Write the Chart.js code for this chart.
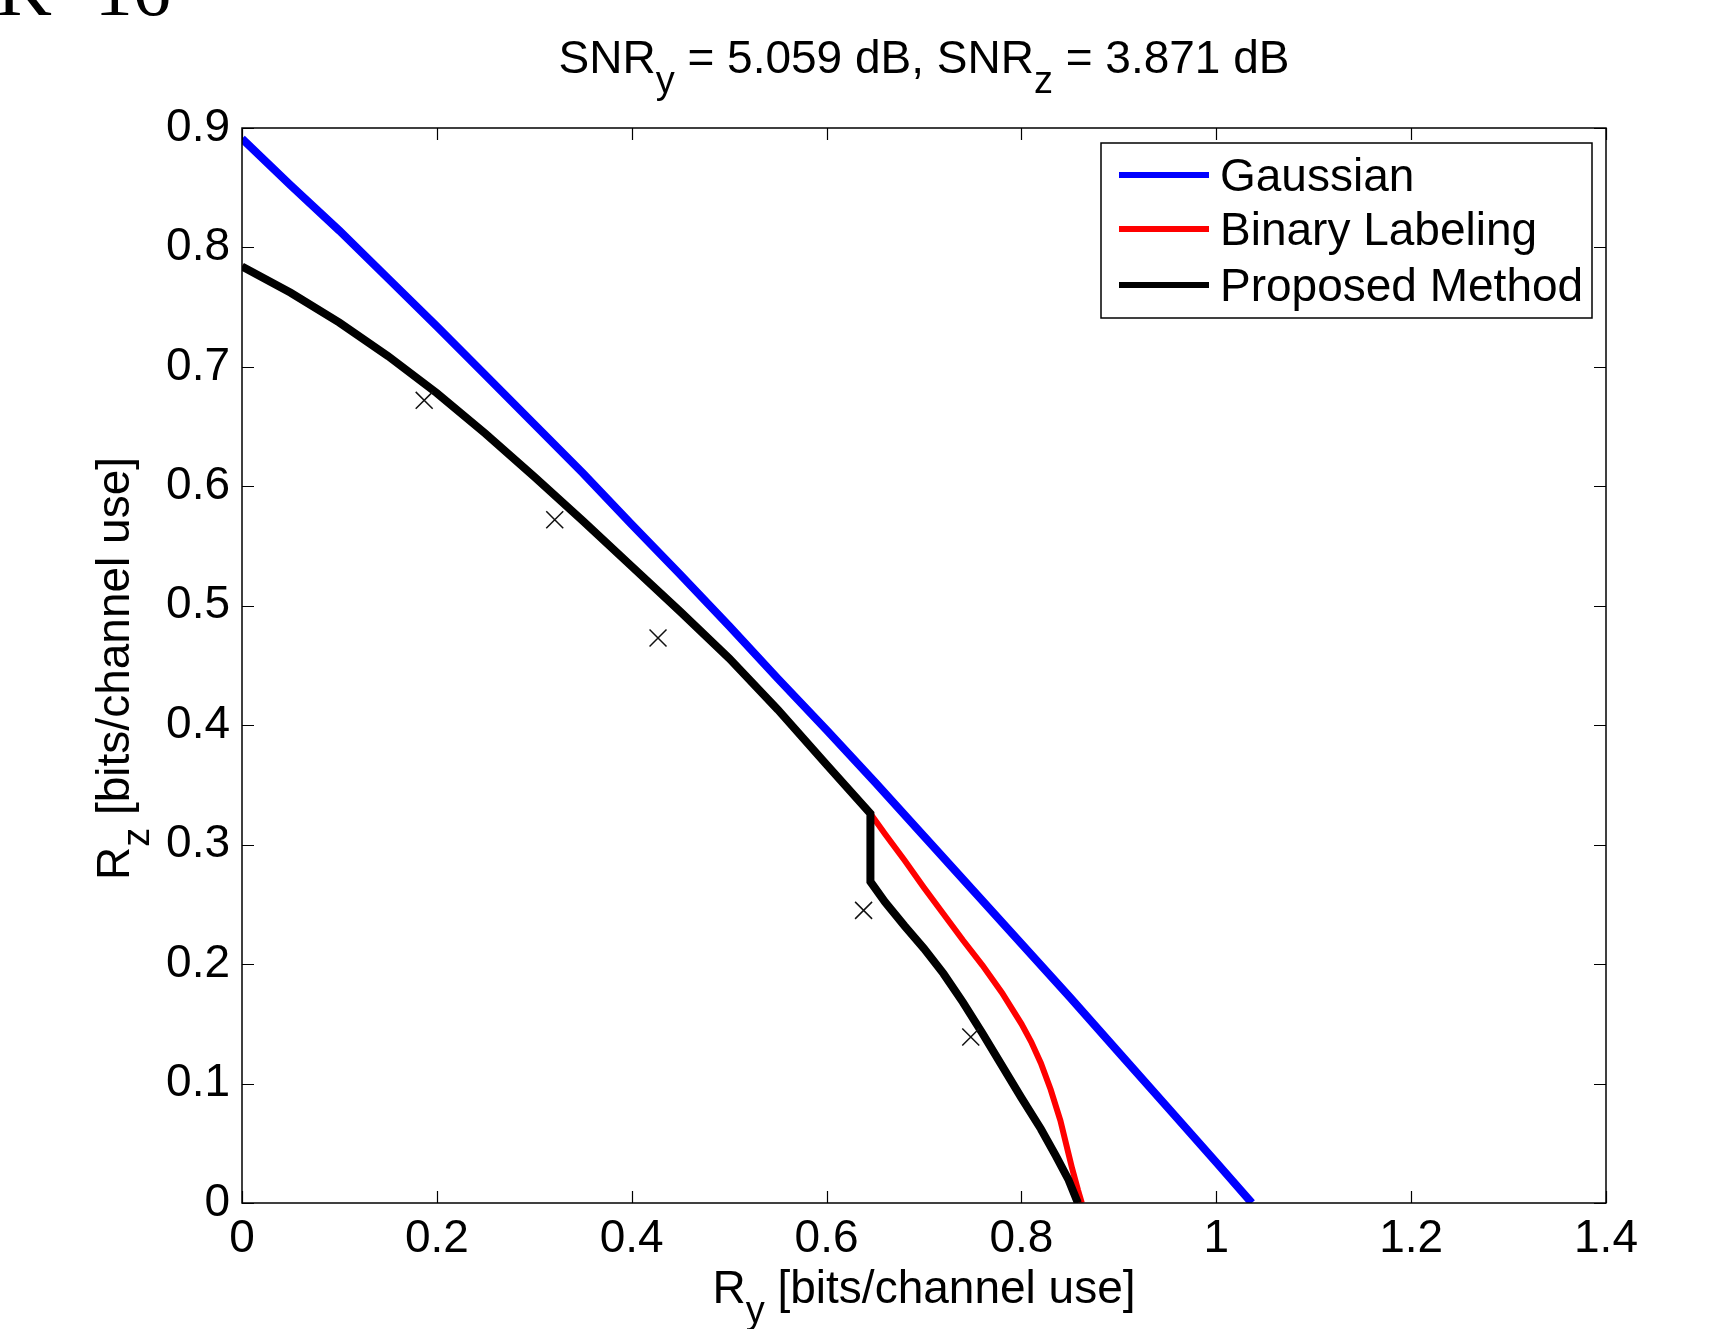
<!DOCTYPE html>
<html><head><meta charset="utf-8">
<script src="https://cdn.jsdelivr.net/npm/chart.js@4/dist/chart.umd.min.js"></script>
<style>html,body{margin:0;padding:0;background:#fff;overflow:hidden}canvas{display:block}</style>
</head><body>
<canvas id="c" width="1717" height="1329"></canvas>
<script>
// ---- data ----
const gaussRy = [0,0.05,0.1,0.15,0.2,0.25,0.3,0.35,0.4,0.45,0.5,0.55,0.6,0.65,0.7,0.75,0.8,0.85,0.9,0.95,1.0,1.0365];
const gaussRz = [0.891,0.852,0.814,0.774,0.734,0.693,0.652,0.611,0.568,0.526,0.483,0.439,0.396,0.352,0.307,0.262,0.217,0.172,0.126,0.080,0.034,0];

const binaryRy = [0,0.05,0.1,0.15,0.2,0.25,0.3,0.35,0.4,0.45,0.5,0.55,0.6,0.645,0.66,0.68,0.70,0.72,0.74,0.76,0.78,0.80,0.81,0.82,0.83,0.84,0.846,0.852,0.858,0.862];
const binaryRz = [0.784,0.762,0.737,0.709,0.678,0.644,0.608,0.571,0.533,0.495,0.456,0.413,0.367,0.326,0.309,0.287,0.264,0.242,0.220,0.199,0.176,0.150,0.135,0.117,0.095,0.069,0.049,0.029,0.011,0];

const proposedRy = [0,0.05,0.1,0.15,0.2,0.25,0.3,0.35,0.4,0.45,0.5,0.55,0.6,0.645,0.645,0.66,0.68,0.70,0.72,0.74,0.76,0.78,0.80,0.82,0.835,0.848,0.858];
const proposedRz = [0.784,0.762,0.737,0.709,0.678,0.644,0.608,0.571,0.533,0.495,0.456,0.413,0.367,0.326,0.269,0.252,0.232,0.213,0.192,0.168,0.142,0.115,0.088,0.062,0.040,0.020,0];

const crossRy = [0.187,0.321,0.427,0.638,0.748];
const crossRz = [0.672,0.572,0.473,0.245,0.139];

const xTicks = [0,0.2,0.4,0.6,0.8,1,1.2,1.4];
const yTicks = [0,0.1,0.2,0.3,0.4,0.5,0.6,0.7,0.8,0.9];
const xTickLabels = ['0','0.2','0.4','0.6','0.8','1','1.2','1.4'];
const yTickLabels = ['0','0.1','0.2','0.3','0.4','0.5','0.6','0.7','0.8','0.9'];

const seriesNames = ['Gaussian','Binary Labeling','Proposed Method'];
const titleParts = [['SNR',0],['y',1],[' = 5.059 dB, SNR',0],['z',1],[' = 3.871 dB',0]];
const xTitleParts = [['R',0],['y',1],[' [bits/channel use]',0]];
const yTitleParts = [['R',0],['z',1],[' [bits/channel use]',0]];
const cornerText = 'K=16';

// ---- build ----
const pts = (xs, ys) => xs.map((x, i) => ({x, y: ys[i]}));
const FONT = '"Liberation Sans", Arial, Helvetica, sans-serif';
const FS = 46, SUBFS = 38, SUBDY = 20;

function drawRich(ctx, parts, x, y) {
  const ws = parts.map(([t, s]) => { ctx.font = (s ? SUBFS : FS) + 'px ' + FONT; return ctx.measureText(t).width; });
  const w = ws.reduce((a, b) => a + b, 0);
  let cx = x - w / 2;
  ctx.textAlign = 'left';
  ctx.textBaseline = 'alphabetic';
  parts.forEach(([t, s], i) => {
    ctx.font = (s ? SUBFS : FS) + 'px ' + FONT;
    ctx.fillText(t, cx, y + (s ? SUBDY : 0));
    cx += ws[i];
  });
}

const decor = {
  id: 'decor',
  afterDatasetsDraw(chart) {
    const {ctx, chartArea: a, scales: {x, y}} = chart;
    ctx.save();
    ctx.strokeStyle = '#000';
    ctx.lineWidth = 1.5;
    ctx.strokeRect(a.left, a.top, a.right - a.left, a.bottom - a.top);
    const TL = 12;
    ctx.beginPath();
    xTicks.forEach(v => {
      const px = Math.round(x.getPixelForValue(v)) + 0.5;
      ctx.moveTo(px, a.bottom); ctx.lineTo(px, a.bottom - TL);
      ctx.moveTo(px, a.top); ctx.lineTo(px, a.top + TL);
    });
    yTicks.forEach(v => {
      const py = Math.round(y.getPixelForValue(v)) + 0.5;
      ctx.moveTo(a.left, py); ctx.lineTo(a.left + TL, py);
      ctx.moveTo(a.right, py); ctx.lineTo(a.right - TL, py);
    });
    ctx.lineWidth = 1.2;
    ctx.stroke();
    ctx.restore();
  },
  afterDraw(chart) {
    const {ctx, chartArea: a} = chart;
    ctx.save();
    ctx.fillStyle = '#000';
    drawRich(ctx, titleParts, (a.left + a.right) / 2, 73);
    drawRich(ctx, xTitleParts, (a.left + a.right) / 2, 1303);
    ctx.save();
    ctx.translate(129, (a.top + a.bottom) / 2 + 3);
    ctx.rotate(-Math.PI / 2);
    drawRich(ctx, yTitleParts, 0, 0);
    ctx.restore();
    ctx.font = '76px "Liberation Serif", "Times New Roman", serif';
    ctx.textAlign = 'left';
    ctx.textBaseline = 'alphabetic';
    ctx.fillText(cornerText, -3, 15);
    const bx = 1101, by = 143, bw = 491, bh = 175;
    ctx.fillStyle = '#fff';
    ctx.fillRect(bx, by, bw, bh);
    ctx.strokeStyle = '#000';
    ctx.lineWidth = 1.5;
    ctx.strokeRect(bx, by, bw, bh);
    const rows = [175, 229, 285];
    const cols = ['#0000ff', '#ff0000', '#000000'];
    ctx.font = FS + 'px ' + FONT;
    ctx.textBaseline = 'alphabetic';
    rows.forEach((ry, i) => {
      ctx.strokeStyle = cols[i];
      ctx.lineWidth = 6;
      ctx.beginPath(); ctx.moveTo(1119, ry); ctx.lineTo(1209, ry); ctx.stroke();
      ctx.fillStyle = '#000';
      ctx.fillText(seriesNames[i], 1220, ry + 16);
    });
    ctx.restore();
  }
};

new Chart(document.getElementById('c'), {
  type: 'scatter',
  data: {
    datasets: [
      {label: seriesNames[0], data: pts(gaussRy, gaussRz), showLine: true, borderColor: '#0000ff', backgroundColor: '#0000ff', borderWidth: 8, pointRadius: 0, order: 3},
      {label: seriesNames[1], data: pts(binaryRy, binaryRz), showLine: true, borderColor: '#ff0000', backgroundColor: '#ff0000', borderWidth: 6, pointRadius: 0, order: 2},
      {label: seriesNames[2], data: pts(proposedRy, proposedRz), showLine: true, borderColor: '#000000', backgroundColor: '#000000', borderWidth: 8, pointRadius: 0, order: 1},
      {label: 'points', data: pts(crossRy, crossRz), showLine: false, pointStyle: 'crossRot', pointRadius: 12, borderColor: '#111', borderWidth: 1.5, order: 0}
    ]
  },
  options: {
    responsive: false,
    animation: false,
    devicePixelRatio: 1,
    layout: {padding: {top: 128, right: 111, left: 0, bottom: 0}},
    plugins: {legend: {display: false}, title: {display: false}, tooltip: {enabled: false}},
    scales: {
      x: {
        type: 'linear', min: 0, max: 1.4,
        afterBuildTicks: s => { s.ticks = xTicks.map(v => ({value: v})); },
        afterFit: s => { s.height = 126; },
        grid: {display: false, drawTicks: false},
        border: {display: false},
        ticks: {color: '#000', font: {family: FONT, size: FS}, padding: 9, maxRotation: 0, autoSkip: false,
          callback: (v) => xTickLabels[xTicks.indexOf(v)]}
      },
      y: {
        type: 'linear', min: 0, max: 0.9,
        afterBuildTicks: s => { s.ticks = yTicks.map(v => ({value: v})); },
        afterFit: s => { s.width = 242; },
        grid: {display: false, drawTicks: false},
        border: {display: false},
        ticks: {color: '#000', font: {family: FONT, size: FS}, padding: 12, autoSkip: false,
          callback: (v) => yTickLabels[yTicks.indexOf(v)]}
      }
    }
  },
  plugins: [decor]
});
</script>
</body></html>
